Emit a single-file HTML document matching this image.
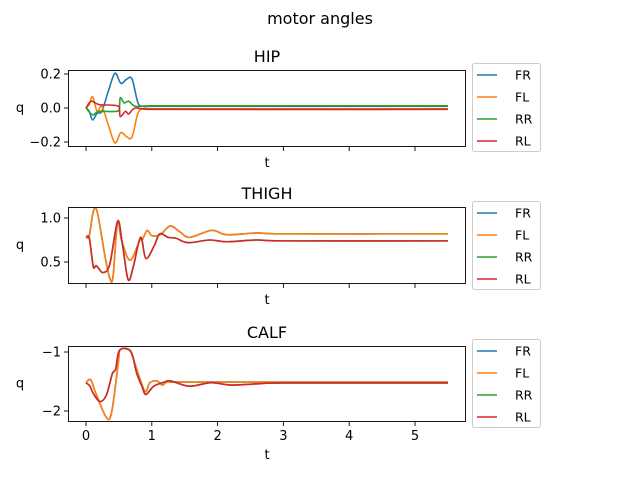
<!DOCTYPE html>
<html><head><meta charset="utf-8"><style>
body{margin:0;background:#fff}
svg text{font-family:"DejaVu Sans","Liberation Sans",sans-serif;fill:#000}
</style></head><body>
<svg id="fig" width="640" height="480" viewBox="0 0 640 480" xmlns="http://www.w3.org/2000/svg">
<text x="320" y="24" font-size="16" text-anchor="middle">motor angles</text>
</svg>
<script>
const seriesNames=["FR","FL","RR","RL"];
const colors=["#1f77b4","#ff7f0e","#2ca02c","#d62728"];
const xTicks=[0,1,2,3,4,5];
// HIP
const hipFR_t=[0,0.05,0.1,0.17,0.24,0.34,0.44,0.53,0.62,0.7,0.79,0.87,1.0,5.5];
const hipFR_v=[0,-0.02,-0.07,-0.03,-0.02,0.1,0.204,0.145,0.17,0.17,0.03,0.01,0.01,0.01];
const hipFL_t=[0,0.05,0.1,0.17,0.24,0.34,0.44,0.53,0.62,0.7,0.79,0.87,1.0,5.5];
const hipFL_v=[0,0.02,0.066,-0.02,0.01,-0.1,-0.205,-0.145,-0.17,-0.17,-0.03,-0.005,-0.005,-0.005];
const hipRR_t=[0,0.1,0.2,0.5,0.52,0.58,0.65,0.75,1.0,5.5];
const hipRR_v=[0,-0.04,-0.02,-0.015,0.06,0.03,0.04,0.01,0.013,0.013];
const hipRL_t=[0,0.08,0.2,0.5,0.52,0.6,0.65,0.75,1.0,5.5];
const hipRL_v=[0,0.04,0.02,0.01,-0.05,-0.02,-0.035,0,-0.008,-0.008];
// THIGH
const thFL_t=[0,0.05,0.11,0.17,0.29,0.36,0.41,0.48,0.54,0.67,0.82,0.86,0.93,1.0,1.13,1.28,1.43,1.58,1.91,2.14,2.59,3.0,5.5];
const thFL_v=[0.78,0.8,1.07,1.07,0.56,0.32,0.33,0.96,0.75,0.52,0.75,0.76,0.86,0.8,0.81,0.91,0.84,0.78,0.86,0.81,0.83,0.82,0.82];
const thFR_t=thFL_t.slice();
const thFR_v=thFL_v.slice();
const thRL_t=[0,0.05,0.11,0.15,0.19,0.26,0.36,0.48,0.55,0.64,0.72,0.83,0.91,1.04,1.12,1.25,1.37,1.55,1.88,2.14,2.59,3.0,5.5];
const thRL_v=[0.78,0.77,0.45,0.46,0.43,0.38,0.47,0.96,0.72,0.3,0.45,0.78,0.54,0.69,0.82,0.78,0.77,0.72,0.75,0.73,0.75,0.74,0.74];
const thRR_t=thRL_t.slice();
const thRR_v=thRL_v.slice();
// CALF
const caFL_t=[0,0.07,0.15,0.31,0.39,0.49,0.52,0.65,0.7,0.8,0.9,0.97,1.08,1.16,1.23,1.4,5.5];
const caFL_v=[-1.52,-1.47,-1.7,-2.11,-2.02,-1.19,-0.96,-0.96,-1.05,-1.39,-1.67,-1.52,-1.49,-1.56,-1.51,-1.51,-1.51];
const caFR_t=caFL_t.slice();
const caFR_v=caFL_v.slice();
const caRL_t=[0,0.06,0.11,0.21,0.31,0.4,0.45,0.51,0.68,0.77,0.85,0.91,1.03,1.19,1.29,1.57,1.9,2.2,2.59,3.0,5.5];
const caRL_v=[-1.52,-1.58,-1.7,-1.84,-1.73,-1.37,-1.29,-0.97,-0.99,-1.36,-1.58,-1.72,-1.58,-1.51,-1.49,-1.58,-1.52,-1.56,-1.54,-1.525,-1.525];
const caRR_t=caRL_t.slice();
const caRR_v=caRL_v.slice();

const hipTicks=[0.2,0.0,-0.2], hipLabels=["0.2","0.0","\u22120.2"];
const thTicks=[1.0,0.5], thLabels=["1.0","0.5"];
const caTicks=[-1,-2], caLabels=["\u22121","\u22122"];

const NS="http://www.w3.org/2000/svg";
const svg=document.getElementById('fig');
function mk(tag,attrs,parent){const e=document.createElementNS(NS,tag);for(const k in attrs)e.setAttribute(k,attrs[k]);(parent||svg).appendChild(e);return e;}
const xs=t=>86+t*65.8;
function pathFrom(ts,vs,ys){
  const p=ts.map((t,i)=>[xs(t),ys(vs[i])]);
  let d="M"+p[0][0].toFixed(2)+","+p[0][1].toFixed(2);
  for(let i=0;i<p.length-1;i++){
    const p0=p[Math.max(0,i-1)],p1=p[i],p2=p[i+1],p3=p[Math.min(p.length-1,i+2)];
    const c1=[p1[0]+(p2[0]-p0[0])/6,p1[1]+(p2[1]-p0[1])/6];
    const c2=[p2[0]-(p3[0]-p1[0])/6,p2[1]-(p3[1]-p1[1])/6];
    c1[0]=Math.min(Math.max(c1[0],p1[0]),p2[0]);c2[0]=Math.min(Math.max(c2[0],p1[0]),p2[0]);
    d+=` C${c1[0].toFixed(2)},${c1[1].toFixed(2)} ${c2[0].toFixed(2)},${c2[1].toFixed(2)} ${p2[0].toFixed(2)},${p2[1].toFixed(2)}`;
  }
  return d;
}
function panel(name,title,top,bot,v0,p0,v1,p1,ticks,labels,series,showX,legTop){
  const g=mk('g',{});
  
  
  const ys=v=>p0+(v-v0)*(p1-p0)/(v1-v0);
  const tt=mk('text',{x:267,y:top-8,'font-size':16,'text-anchor':'middle'},g);tt.textContent=title;
  
  
  const cp=mk('clipPath',{id:'c'+name},g);mk('rect',{x:68,y:top,width:397,height:bot-top},cp);
  const lg=mk('g',{'clip-path':'url(#c'+name+')'},g);
  series.forEach((s,i)=>{
    const pth=mk('path',{d:pathFrom(s[0],s[1],ys),fill:'none',stroke:colors[i],'stroke-width':1.6,'stroke-linejoin':'round'},lg);
    
    
  });
  const fr=mk('rect',{x:68.5,y:top+0.5,width:397,height:bot-top,fill:'none',stroke:'#000','stroke-width':0.9},g);
  
  
  ticks.forEach((v,i)=>{
    const y=ys(v);
    mk('line',{x1:64,x2:68.5,y1:y,y2:y,stroke:'#000','stroke-width':0.9},g);
    const t=mk('text',{x:61,y:y+4.5,'font-size':13,'text-anchor':'end'},g);t.textContent=labels[i];
    
    
  });
  xTicks.forEach(v=>{
    const x=xs(v);
    mk('line',{x1:x,x2:x,y1:bot+0.5,y2:bot+5,stroke:'#000','stroke-width':0.9},g);
    if(showX){const t=mk('text',{x:x,y:bot+19,'font-size':13,'text-anchor':'middle'},g);t.textContent=String(v);
      
      }
  });
  const xl=mk('text',{x:267,y:bot+(showX?38:21),'font-size':13,'text-anchor':'middle'},g);xl.textContent='t';
  
  
  const yl=mk('text',{x:20,y:(top+bot)/2+4,'font-size':13,'text-anchor':'middle'},g);yl.textContent='q';
  
  
  const L=mk('g',{},g);
  
  
  mk('rect',{x:472.5,y:legTop+0.5,width:68,height:88,rx:2,fill:'#fff',stroke:'#ccc','stroke-width':1},L);
  seriesNames.forEach((n,i)=>{
    const y=legTop+12+i*22;
    const e=mk('g',{},L);
    
    
    mk('line',{x1:477,x2:497,y1:y,y2:y,stroke:colors[i],'stroke-width':1.6},e);
    const t=mk('text',{x:515,y:y+4.5,'font-size':12.5},e);t.textContent=n;
  });
}
panel('hip','HIP',70,146,0.2,74,-0.2,142,hipTicks,hipLabels,
 [[hipFR_t,hipFR_v],[hipFL_t,hipFL_v],[hipRR_t,hipRR_v],[hipRL_t,hipRL_v]],false,63);
panel('thigh','THIGH',207,283,1.0,218,0.5,262,thTicks,thLabels,
 [[thFR_t,thFR_v],[thFL_t,thFL_v],[thRR_t,thRR_v],[thRL_t,thRL_v]],false,201);
panel('calf','CALF',346,421,-1,352,-2,411,caTicks,caLabels,
 [[caFR_t,caFR_v],[caFL_t,caFL_v],[caRR_t,caRR_v],[caRL_t,caRL_v]],true,339);
</script>
</body></html>
